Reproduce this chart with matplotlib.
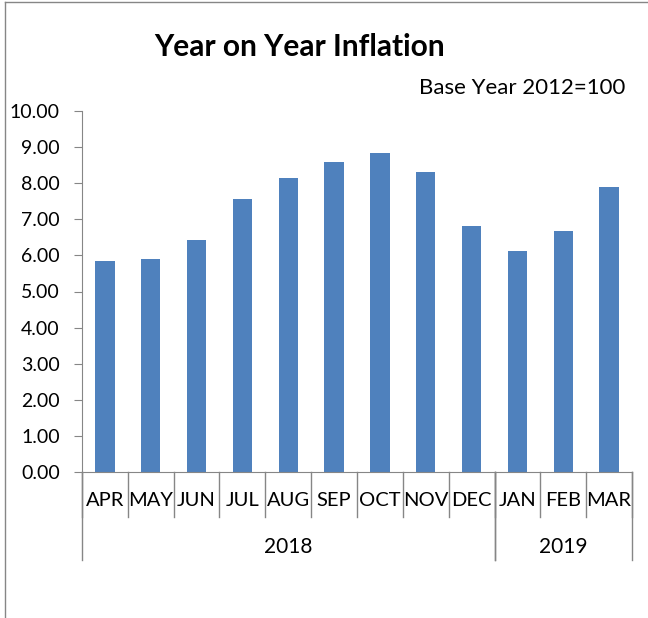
import numpy as np
import matplotlib.pyplot as plt
from matplotlib.lines import Line2D
import matplotlib.transforms as mtransforms

months = ['APR', 'MAY', 'JUN', 'JUL', 'AUG', 'SEP', 'OCT', 'NOV', 'DEC', 'JAN', 'FEB', 'MAR']
inflation = [5.84, 5.90, 6.43, 7.56, 8.14, 8.59, 8.84, 8.31, 6.81, 6.12, 6.68, 7.89]
years = ['2018', '2019']
months_per_year = [9, 3]
yticks = np.arange(0, 10.01, 1.0)

plt.rcParams['font.family'] = ['Lato', 'DejaVu Sans']
grey = '#868686'

fig = plt.figure(figsize=(6.48, 6.18), dpi=100)
ax = fig.add_axes([82/648, 1 - 472/618, 550/648, 361/618])

x = np.arange(len(months))
ax.bar(x, inflation, width=0.42, color='#4F81BD')
ax.set_xlim(-0.5, len(months) - 0.5)
ax.set_ylim(0, 10)
ax.set_yticks(yticks)
ax.set_yticklabels(['%.2f' % v for v in yticks], fontsize=14)
ax.tick_params(axis='y', length=6, color=grey, pad=10)
ax.set_xticks([])
for s in ['top', 'right']:
    ax.spines[s].set_visible(False)
for s in ['left', 'bottom']:
    ax.spines[s].set_color(grey)

# category axis: month labels, year labels and separators
trans = mtransforms.blended_transform_factory(ax.transData, ax.transAxes)
for i, m in enumerate(months):
    ax.text(i, -0.08, m, transform=trans, ha='center', va='center', fontsize=14.5)
for b in np.arange(-0.5, len(months), 1.0):
    ax.plot([b, b], [0, -0.125], transform=trans, color=grey, lw=1, clip_on=False)

start = -0.5
for yr, n in zip(years, months_per_year):
    end = start + n
    ax.text((start + end) / 2, -0.208, yr, transform=trans, ha='center', va='center', fontsize=15)
    ax.plot([start, start], [0, -0.245], transform=trans, color=grey, lw=1, clip_on=False)
    ax.plot([end, end], [0, -0.245], transform=trans, color=grey, lw=1, clip_on=False)
    start = end

fig.text(300/648, 1 - 47/618, 'Year on Year Inflation', ha='center', va='center',
         fontsize=21.5, fontweight='bold')
fig.text(625/648, 1 - 88/618, 'Base Year 2012=100', ha='right', va='center', fontsize=16)

# outer chart border (left and top only visible)
fig.add_artist(Line2D([5/648, 5/648], [0, 1 - 2/618], color=grey, lw=1))
fig.add_artist(Line2D([5/648, 1], [1 - 2/618, 1 - 2/618], color=grey, lw=1))

fig.savefig('out.png', dpi=100)
